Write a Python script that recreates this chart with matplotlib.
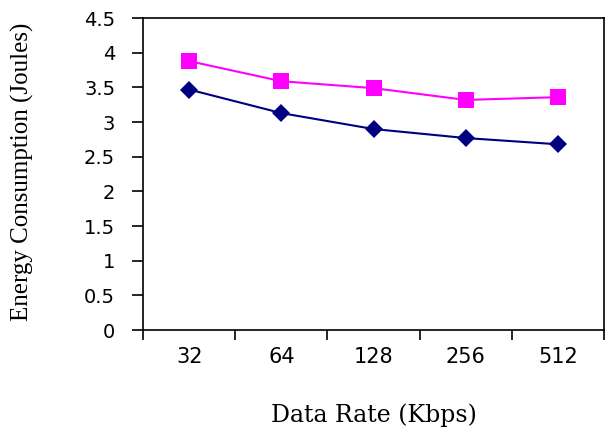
import matplotlib
matplotlib.use("Agg")
import matplotlib.pyplot as plt
import numpy as np

# data
rates = ["32", "64", "128", "256", "512"]
energy_low = [3.47, 3.13, 2.90, 2.77, 2.68]
energy_high = [3.88, 3.59, 3.49, 3.32, 3.36]

fig = plt.figure(figsize=(6.06, 4.32), dpi=100)
ax = fig.add_axes([0.236, 0.236, 0.761, 0.722])

xs = np.arange(len(rates))
ax.plot(xs, energy_high, color="#FF00FF", marker="s", markersize=11,
        linewidth=1.5, markeredgewidth=0)
ax.plot(xs, energy_low, color="#000080", marker="D", markersize=9,
        linewidth=1.5, markeredgewidth=0)

ax.set_xlim(-0.5, len(rates) - 0.5)
ax.set_ylim(0, 4.5)
ax.set_yticks(np.arange(0, 4.51, 0.5))
ax.set_yticklabels(["0", "0.5", "1", "1.5", "2", "2.5", "3", "3.5", "4", "4.5"])

# category labels centred, tick marks on the boundaries
ax.set_xticks(xs)
ax.set_xticklabels(rates)
ax.tick_params(axis="x", which="major", length=0, pad=12, labelsize=15)
ax.set_xticks(np.arange(-0.5, len(rates), 1.0), minor=True)
ax.tick_params(axis="x", which="minor", length=7, width=1.2, direction="out")
ax.tick_params(axis="y", length=8, width=1.2, labelsize=14, pad=12)

for s in ax.spines.values():
    s.set_linewidth(1.2)

ax.set_xlabel("Data Rate (Kbps)", family="DejaVu Serif", fontsize=17,
              va="center")
ax.xaxis.set_label_coords(0.501, -0.272)
ax.set_ylabel("Energy Consumption (Joules)", family="Liberation Serif",
              fontsize=18, va="center")
ax.yaxis.set_label_coords(-0.262, 0.506)

fig.savefig("out.png", dpi=100)
